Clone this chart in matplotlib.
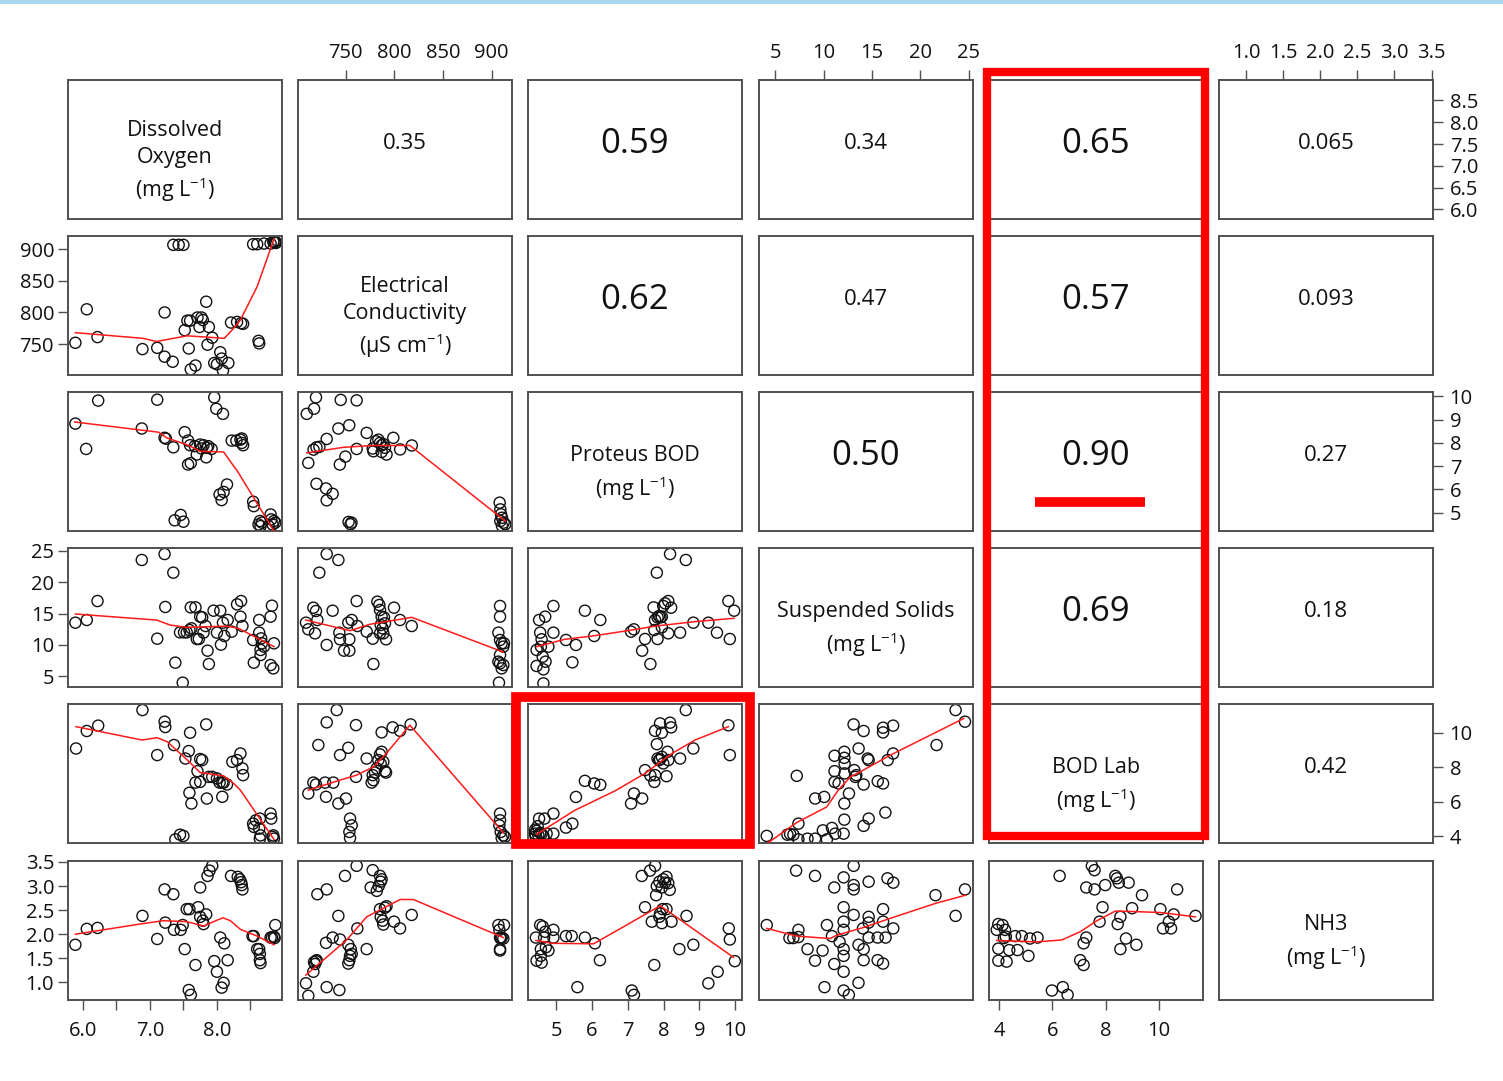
import matplotlib
matplotlib.use("Agg")
import matplotlib.pyplot as plt
from matplotlib.patches import Rectangle

plt.rcParams["font.family"] = ["Open Sans", "DejaVu Sans"]
plt.rcParams["mathtext.fontset"] = "custom"
plt.rcParams["mathtext.rm"] = "Open Sans"
plt.rcParams["mathtext.default"] = "regular"

# ---------------------------------------------------------------------------
# Variables
# ---------------------------------------------------------------------------

VAR_LABELS = [
    "Dissolved\nOxygen\n(mg L$^{-1}$)",
    "Electrical\nConductivity\n(µS cm$^{-1}$)",
    "Proteus BOD\n(mg L$^{-1}$)",
    "Suspended Solids\n(mg L$^{-1}$)",
    "BOD Lab\n(mg L$^{-1}$)",
    "NH3\n(mg L$^{-1}$)",
]
VAR_LIMITS = [(5.78, 8.97), (701, 921), (4.21, 10.19), (3.3, 25.45), (3.62, 11.65), (0.633, 3.52)]
VAR_TICKS = [
    [6.0, 6.5, 7.0, 7.5, 8.0, 8.5],
    [750, 800, 850, 900],
    [5, 6, 7, 8, 9, 10],
    [5, 10, 15, 20, 25],
    [4, 6, 8, 10],
    [1.0, 1.5, 2.0, 2.5, 3.0, 3.5],
]
VAR_DECIMALS = [1, 0, 0, 0, 0, 1]

# correlation coefficients, upper triangle (row, col)
CORR = {
    (0, 1): "0.35", (0, 2): "0.59", (0, 3): "0.34", (0, 4): "0.65", (0, 5): "0.065",
    (1, 2): "0.62", (1, 3): "0.47", (1, 4): "0.57", (1, 5): "0.093",
    (2, 3): "0.50", (2, 4): "0.90", (2, 5): "0.27",
    (3, 4): "0.69", (3, 5): "0.18",
    (4, 5): "0.42",
}

# ---------------------------------------------------------------------------
# Scatter data, (x = column variable, y = row variable)
# ---------------------------------------------------------------------------

do_ec = [(5.89, 752), (6.06, 805), (6.22, 761), (6.89, 742), (7.11, 744), (7.22, 800), (7.22, 730),
         (7.34, 722), (7.35, 907), (7.43, 907), (7.50, 907), (7.52, 772), (7.58, 743), (7.56, 787),
         (7.60, 787), (7.61, 710), (7.68, 716), (7.71, 792), (7.74, 777), (7.77, 792), (7.79, 788),
         (7.84, 817), (7.86, 749), (7.88, 777), (7.93, 760), (7.96, 720), (8.00, 718), (8.05, 737),
         (8.07, 727), (8.09, 708), (8.17, 720), (8.21, 784), (8.30, 785), (8.36, 783), (8.39, 782),
         (8.54, 908), (8.60, 908), (8.62, 755), (8.63, 751), (8.70, 909), (8.80, 909), (8.84, 912),
         (8.87, 912), (8.90, 914), (8.88, 910), (8.86, 911)]
do_ec_fit = [(5.89, 768), (6.90, 759), (7.10, 754), (7.55, 763), (7.85, 761), (8.11, 759),
             (8.25, 775), (8.35, 788), (8.60, 841), (8.85, 916)]

do_pb = [(5.89, 8.83), (6.05, 7.74), (6.23, 9.82), (6.88, 8.62), (7.11, 9.86), (7.22, 8.22), (7.24, 8.18),
         (7.35, 7.81), (7.37, 4.67), (7.46, 4.90), (7.50, 4.61), (7.52, 8.46), (7.57, 8.10), (7.60, 7.90),
         (7.57, 7.07), (7.61, 7.13), (7.67, 7.86), (7.70, 7.50), (7.75, 7.93), (7.77, 7.76), (7.80, 7.90),
         (7.85, 7.79), (7.87, 7.86), (7.92, 7.74), (7.84, 7.38), (7.96, 9.96), (7.99, 9.47), (8.09, 9.25),
         (8.04, 5.78), (8.10, 5.89), (8.15, 6.21), (8.07, 5.54), (8.22, 8.10), (8.29, 8.10), (8.35, 8.14),
         (8.37, 8.00), (8.39, 7.90), (8.37, 8.19), (8.54, 5.47), (8.55, 5.28), (8.62, 4.49), (8.64, 4.64),
         (8.65, 4.42), (8.67, 4.57), (8.80, 4.92), (8.81, 4.71), (8.83, 4.49), (8.85, 4.64), (8.77, 4.42),
         (8.87, 4.57)]
do_pb_fit = [(5.88, 8.90), (7.13, 8.46), (7.25, 8.22), (7.57, 7.90), (7.75, 7.64), (8.10, 7.61),
             (8.25, 7.00), (8.30, 6.81), (8.85, 4.21)]

do_ss = [(5.89, 13.55), (6.06, 13.98), (6.22, 17.0), (6.88, 23.54), (7.11, 11.0), (7.22, 24.49),
         (7.23, 16.05), (7.35, 21.52), (7.38, 7.18), (7.45, 12.01), (7.51, 12.01), (7.55, 12.01),
         (7.59, 12.38), (7.49, 3.99), (7.61, 15.99), (7.68, 15.99), (7.62, 12.65), (7.70, 10.95),
         (7.73, 10.95), (7.75, 14.51), (7.78, 14.4), (7.80, 11.96), (7.83, 13.02), (7.86, 9.09),
         (7.88, 6.96), (7.95, 15.46), (8.00, 11.96), (8.05, 15.46), (8.06, 10.05), (8.09, 13.55),
         (8.11, 11.43), (8.16, 13.98), (8.22, 12.12), (8.30, 16.47), (8.36, 17.0), (8.35, 14.51),
         (8.38, 13.02), (8.54, 10.79), (8.55, 7.18), (8.63, 11.96), (8.63, 13.98), (8.66, 11.05),
         (8.67, 10.26), (8.65, 9.2), (8.65, 8.4), (8.70, 9.73), (8.80, 14.51), (8.82, 16.26),
         (8.85, 10.26), (8.80, 6.8), (8.84, 6.27)]
do_ss_fit = [(5.89, 14.93), (7.10, 13.97), (7.30, 13.18), (7.55, 12.8), (8.15, 13.0), (8.32, 12.65),
             (8.85, 9.73)]

do_bl = [(5.90, 9.08), (6.06, 10.09), (6.23, 10.40), (6.89, 11.30), (7.11, 8.70), (7.22, 10.63),
         (7.23, 10.32), (7.36, 9.28), (7.38, 3.83), (7.45, 4.10), (7.50, 4.03), (7.53, 8.5), (7.58, 8.93),
         (7.60, 9.99), (7.62, 5.9), (7.59, 6.52), (7.68, 7.11), (7.71, 7.77), (7.75, 8.47), (7.78, 8.41),
         (7.75, 7.15), (7.84, 10.47), (7.85, 6.19), (7.88, 7.44), (7.93, 7.44), (8.00, 7.35), (8.04, 7.11),
         (8.08, 7.11), (8.10, 7.11), (8.15, 7.00), (8.08, 6.29), (8.23, 8.31), (8.30, 8.41), (8.35, 8.79),
         (8.38, 7.93), (8.39, 7.54), (8.54, 4.74), (8.55, 4.55), (8.58, 4.93), (8.63, 4.45), (8.64, 5.03),
         (8.64, 3.87), (8.65, 4.06), (8.80, 5.32), (8.81, 5.03), (8.84, 4.06), (8.85, 3.87), (8.83, 3.97)]
do_bl_fit = [(5.90, 10.34), (6.88, 9.57), (7.11, 9.70), (7.26, 9.47), (7.56, 8.41), (7.75, 7.69),
             (8.10, 7.50), (8.25, 7.06), (8.35, 6.67), (8.85, 3.83)]

do_nh = [(5.89, 1.78), (6.06, 2.11), (6.22, 2.13), (6.89, 2.38), (7.11, 1.90), (7.22, 2.93), (7.23, 2.24),
         (7.35, 2.83), (7.36, 2.09), (7.46, 2.09), (7.49, 2.19), (7.52, 1.69), (7.55, 2.52), (7.59, 2.52),
         (7.58, 0.84), (7.61, 0.74), (7.68, 1.36), (7.72, 2.56), (7.75, 2.97), (7.75, 2.36), (7.79, 2.28),
         (7.80, 2.21), (7.84, 2.41), (7.86, 3.21), (7.89, 3.32), (7.93, 3.42), (7.96, 1.44), (8.00, 1.22),
         (8.05, 1.93), (8.07, 0.89), (8.10, 0.99), (8.11, 1.81), (8.16, 1.46), (8.21, 3.21), (8.31, 3.19),
         (8.34, 3.14), (8.36, 3.08), (8.37, 3.02), (8.38, 2.93), (8.53, 1.96), (8.55, 1.96), (8.60, 1.69),
         (8.63, 1.69), (8.64, 1.59), (8.64, 1.46), (8.65, 1.40), (8.80, 1.93), (8.82, 1.93), (8.85, 1.95),
         (8.86, 1.92), (8.87, 2.19)]
do_nh_fit = [(5.89, 2.00), (6.85, 2.21), (7.20, 2.28), (7.55, 2.26), (7.80, 2.17), (8.00, 2.29),
             (8.09, 2.34), (8.20, 2.28), (8.35, 2.10), (8.60, 1.96), (8.85, 1.78)]

ec_pb = [(710, 9.25), (719.5, 9.96), (717.5, 9.47), (720, 7.81), (717, 7.71), (723, 7.83), (711.6, 7.14),
         (720, 6.24), (729.8, 6.04), (736.6, 5.81), (730.5, 5.53), (730.5, 8.17), (742.5, 8.62),
         (744.9, 9.85), (744, 7.07), (749.7, 7.41), (753.7, 8.76), (761.3, 9.83), (761.3, 7.74),
         (771.6, 8.43), (753, 4.60), (755, 4.50), (756, 4.57), (777.8, 7.76), (781.2, 8.07), (783.6, 8.14),
         (785.3, 8.00), (787, 7.90), (788.7, 7.95), (778.5, 7.64), (790.4, 7.79), (792, 7.50), (787, 7.61),
         (799, 8.22), (806, 7.72), (818, 7.89), (908.3, 5.43), (909, 5.14), (909.7, 4.93), (910.7, 4.78),
         (909, 4.64), (912.4, 4.57), (914.1, 4.50), (910.7, 4.43)]
ec_pb_fit = [(710, 7.57), (747.6, 7.81), (778.5, 7.89), (816, 7.89), (914, 4.64)]

ec_ss = [(709.2, 13.55), (711.6, 12.49), (716.8, 15.94), (719.5, 15.41), (718.5, 11.85), (720.9, 13.98),
         (722.9, 21.52), (730.5, 24.49), (730.5, 10.0), (736.6, 15.46), (742.5, 23.54), (743.5, 11.96),
         (744.2, 10.9), (748.3, 9.09), (753.8, 9.09), (752.7, 13.55), (756.2, 13.98), (753.8, 10.9),
         (761.3, 17.0), (762, 13.02), (771.6, 12.12), (777.8, 11.0), (778.5, 6.96), (782.6, 16.9),
         (784.6, 16.37), (785.3, 15.57), (787, 14.51), (788, 12.65), (788.7, 11.85), (789.4, 14.4),
         (790.4, 13.45), (791.5, 10.9), (785.3, 11.85), (786, 13.18), (799.7, 15.94), (805.9, 13.98),
         (817.9, 13.02), (908.7, 16.21), (908.7, 14.51), (907, 11.96), (908.7, 10.79), (910.4, 10.26),
         (912.1, 9.73), (908.7, 8.4), (907, 7.34), (908.7, 7.07), (910.4, 6.27), (912.1, 6.8),
         (912.8, 10.26), (907.6, 3.99)]
ec_ss_fit = [(709, 13.97), (754.5, 12.27), (775, 13.3), (818, 14.4), (912, 8.87)]

ec_bl = [(711.6, 6.48), (716.8, 7.11), (719.5, 7.00), (721.9, 9.28), (728.8, 7.11), (729.8, 6.29),
         (730.5, 10.59), (737.3, 7.11), (740.8, 11.30), (742.5, 5.9), (744.2, 8.7), (750.3, 6.19),
         (752.7, 9.12), (754.5, 5.03), (756.2, 4.64), (753.8, 4.26), (754.5, 3.91), (760.6, 10.43),
         (760.6, 7.44), (771.6, 8.5), (777.8, 7.54), (780.2, 7.69), (781.9, 7.93), (783.6, 8.41),
         (785.3, 8.74), (787, 8.89), (786, 8.21), (788.7, 8.31), (790.4, 7.77), (791.5, 7.69),
         (778.5, 7.25), (776.7, 7.11), (787, 10.01), (798.3, 10.3), (805.9, 10.1), (816.8, 10.47),
         (908.7, 5.32), (908.7, 4.93), (908, 4.64), (909.4, 4.26), (912.1, 4.06), (910.4, 3.91),
         (913.8, 3.97)]
ec_bl_fit = [(711.6, 6.67), (744, 7.25), (761.3, 7.54), (778.5, 8.02), (790.4, 8.70), (816, 10.43),
             (912, 4.22)]

ec_nh = [(709.2, 0.98), (711.6, 0.72), (716.8, 1.22), (718.5, 1.38), (720.2, 1.46), (717.5, 1.42),
         (719.5, 1.44), (720.9, 2.83), (729.8, 1.82), (730.5, 2.93), (730.5, 0.90), (736.6, 1.93),
         (742.5, 2.38), (743.5, 0.84), (744.2, 1.89), (749.3, 3.21), (752.7, 1.78), (755.2, 1.69),
         (756.2, 1.59), (753.8, 1.46), (752.7, 1.39), (754.5, 1.55), (761.3, 3.42), (762, 2.12),
         (771.6, 1.69), (777.8, 3.33), (775.7, 2.97), (782, 2.90), (784, 3.00), (785.3, 3.21),
         (786, 3.09), (787, 3.14), (785.3, 2.52), (786, 2.36), (788, 2.28), (788.7, 2.20), (790.4, 2.55),
         (792, 2.58), (799.7, 2.26), (805.9, 2.12), (817.9, 2.40), (907, 2.19), (908, 2.09),
         (908.7, 1.93), (909.4, 1.91), (910.4, 1.93), (912.1, 1.91), (912.8, 2.19), (908.7, 1.69),
         (908.7, 1.66)]
ec_nh_fit = [(709, 1.15), (751, 1.88), (771.6, 2.36), (806, 2.72), (819.6, 2.72), (912, 1.93)]

pb_ss = [(4.45, 9.2), (4.45, 6.65), (4.52, 13.98), (4.55, 11.96), (4.59, 10.9), (4.57, 9.73), (4.62, 8.13),
         (4.64, 6.11), (4.64, 3.88), (4.69, 14.51), (4.70, 7.34), (4.78, 9.73), (4.92, 11.96), (4.92, 16.21),
         (5.27, 10.79), (5.45, 7.23), (5.55, 10.0), (5.80, 15.46), (6.06, 11.43), (6.23, 13.98),
         (7.09, 12.12), (7.17, 12.49), (7.40, 9.09), (7.48, 10.95), (7.63, 6.96), (7.72, 15.99),
         (7.81, 21.52), (7.76, 13.98), (7.83, 14.4), (7.87, 14.61), (7.91, 14.4), (7.95, 14.51),
         (7.74, 12.38), (7.83, 10.95), (7.95, 12.81), (7.99, 16.21), (8.04, 16.63), (8.13, 17.0),
         (8.21, 15.94), (8.13, 11.85), (8.18, 24.49), (8.62, 23.54), (8.46, 11.96), (8.83, 13.55),
         (9.25, 13.55), (9.49, 11.96), (9.81, 17.0), (9.85, 10.95), (9.97, 15.46)]
pb_ss_fit = [(4.45, 9.73), (5.24, 10.9), (6.08, 11.48), (7.11, 12.38), (7.76, 13.0), (8.88, 13.72),
             (9.97, 14.25)]

pb_bl = [(4.41, 4.16), (4.45, 4.32), (4.50, 4.07), (4.55, 4.20), (4.59, 4.16), (4.48, 4.59), (4.52, 5.03),
         (4.67, 5.03), (4.41, 4.39), (4.42, 4.01), (4.64, 4.01), (4.73, 4.16), (4.92, 5.32), (4.92, 4.16),
         (5.27, 4.51), (5.45, 4.74), (5.55, 6.28), (5.80, 7.21), (6.06, 7.06), (6.23, 6.98), (7.09, 5.9),
         (7.17, 6.48), (7.40, 6.19), (7.48, 7.83), (7.63, 7.52), (7.74, 7.15), (7.76, 7.54), (7.81, 9.33),
         (7.76, 10.1), (7.83, 8.5), (7.87, 8.41), (7.90, 8.45), (7.95, 8.6), (7.99, 8.22), (8.08, 7.48),
         (8.11, 8.89), (8.13, 8.41), (8.18, 10.57), (8.21, 10.3), (7.95, 9.99), (7.90, 10.53),
         (8.46, 8.5), (8.62, 11.3), (8.83, 9.08), (9.81, 10.42), (9.85, 8.7)]
pb_bl_fit = [(4.45, 4.12), (5.52, 5.51), (6.64, 6.63), (7.48, 7.64), (8.23, 8.79), (8.88, 9.57),
             (9.81, 10.34)]

pb_nh = [(4.43, 1.93), (4.45, 1.45), (4.55, 2.19), (4.57, 1.69), (4.59, 1.41), (4.62, 2.16), (4.66, 1.93),
         (4.69, 2.05), (4.71, 1.73), (4.78, 1.66), (4.57, 1.55), (4.92, 1.93), (4.92, 2.09), (5.27, 1.96),
         (5.43, 1.96), (5.59, 0.90), (5.80, 1.93), (6.08, 1.81), (6.22, 1.46), (7.11, 0.83), (7.17, 0.74),
         (7.39, 3.21), (7.48, 2.56), (7.62, 3.32), (7.67, 2.26), (7.74, 1.36), (7.76, 3.42), (7.79, 2.81),
         (7.81, 3.00), (7.88, 3.09), (7.95, 2.97), (7.99, 3.14), (8.04, 3.07), (8.08, 3.19), (8.13, 3.06),
         (8.17, 2.92), (7.88, 2.36), (7.90, 2.43), (7.95, 2.23), (7.97, 2.52), (8.08, 2.52), (8.22, 2.26),
         (8.44, 1.69), (8.64, 2.38), (8.83, 1.78), (9.25, 0.98), (9.51, 1.22), (9.82, 2.12), (9.85, 1.89),
         (9.99, 1.44)]
pb_nh_fit = [(4.43, 1.87), (4.92, 1.81), (6.04, 1.80), (7.06, 2.23), (7.90, 2.59), (8.08, 2.50),
             (9.95, 1.52)]

ss_bl = [(4.1, 4.03), (6.24, 4.10), (6.52, 4.14), (6.86, 4.10), (7.38, 3.83), (8.32, 3.87), (9.11, 3.87),
         (10.33, 3.83), (7.21, 7.5), (7.38, 4.74), (9.11, 6.19), (10.05, 6.28), (9.91, 4.35), (10.85, 4.49),
         (11.19, 4.16), (12.06, 4.16), (11.12, 8.66), (11.12, 7.77), (11.12, 7.15), (11.54, 7.06),
         (12.13, 8.89), (12.13, 8.54), (12.16, 8.2), (12.16, 7.64), (12.13, 5.9), (12.13, 4.97),
         (12.61, 6.48), (13.09, 10.47), (13.27, 7.44), (13.16, 7.83), (13.37, 7.54), (13.61, 9.08),
         (14.13, 7.0), (14.13, 10.09), (14.13, 4.61), (14.65, 5.03), (14.55, 8.5), (14.65, 8.41),
         (15.59, 7.19), (16.14, 7.06), (16.14, 10.28), (16.14, 10.01), (17.18, 10.4), (16.38, 5.38),
         (16.62, 8.41), (17.18, 8.79), (21.68, 9.28), (23.65, 11.3), (24.62, 10.63)]
ss_bl_fit = [(4.1, 3.58), (7.2, 4.80), (10.3, 5.70), (11.5, 6.67), (12.75, 7.44), (14.1, 7.83),
             (16.9, 8.70), (20.7, 9.76), (24.5, 10.82)]

ss_nh = [(4.1, 2.19), (6.45, 1.92), (6.86, 1.92), (7.38, 1.94), (7.38, 2.09), (7.14, 3.32), (8.32, 1.69),
         (9.1, 3.21), (9.1, 1.45), (9.88, 1.66), (10.08, 0.90), (10.33, 2.19), (10.85, 1.96),
         (11.09, 2.97), (11.09, 1.38), (11.64, 1.84), (12.06, 3.18), (12.06, 2.56), (12.06, 2.26),
         (12.06, 2.09), (12.06, 1.69), (12.06, 1.55), (12.06, 1.22), (12.06, 0.83), (12.6, 0.74),
         (13.1, 3.42), (13.1, 3.02), (13.1, 2.93), (13.1, 2.40), (13.6, 1.78), (13.6, 0.99), (14.06, 2.12),
         (14.13, 1.69), (14.13, 1.46), (14.65, 2.36), (14.65, 2.24), (14.65, 1.93), (14.65, 3.09),
         (15.58, 1.93), (15.58, 1.46), (16.14, 2.52), (16.14, 2.26), (16.14, 1.39), (16.4, 1.93),
         (16.6, 3.16), (17.2, 3.07), (17.2, 2.12), (21.57, 2.81), (23.65, 2.38), (24.62, 2.93)]
ss_nh_fit = [(4.1, 2.12), (7.21, 1.96), (10.67, 1.91), (11.36, 1.98), (14.13, 2.14), (16.9, 2.33),
             (21.57, 2.64), (24.69, 2.81)]

bl_nh = [(3.91, 2.09), (3.97, 2.21), (4.13, 2.19), (4.22, 2.09), (4.25, 1.95), (4.18, 1.92), (3.97, 1.70),
         (3.97, 1.45), (4.28, 1.43), (4.38, 1.67), (4.69, 1.67), (4.60, 1.96), (4.85, 1.96), (5.10, 1.55),
         (5.16, 1.91), (5.44, 1.93), (5.98, 0.83), (6.27, 3.21), (6.39, 0.90), (6.57, 0.74), (7.04, 1.46),
         (7.17, 1.36), (7.17, 1.81), (7.27, 1.93), (7.27, 2.97), (7.48, 3.42), (7.58, 3.33), (7.58, 2.93),
         (7.77, 2.26), (7.88, 2.56), (7.98, 3.02), (8.36, 3.21), (8.42, 3.16), (8.49, 3.07), (8.45, 2.21),
         (8.55, 2.36), (8.55, 1.69), (8.76, 1.91), (8.86, 3.07), (8.99, 2.54), (9.15, 1.78), (9.36, 2.81),
         (10.05, 2.52), (10.15, 2.12), (10.37, 2.26), (10.45, 2.12), (10.55, 2.41), (10.68, 2.93),
         (11.37, 2.38)]
bl_nh_fit = [(3.91, 1.87), (5.41, 1.84), (6.35, 1.88), (7.04, 2.05), (7.67, 2.28), (8.36, 2.48),
             (9.05, 2.47), (10.05, 2.45), (11.37, 2.36)]

LOWER = {
    (1, 0): (do_ec, do_ec_fit),
    (2, 0): (do_pb, do_pb_fit), (2, 1): (ec_pb, ec_pb_fit),
    (3, 0): (do_ss, do_ss_fit), (3, 1): (ec_ss, ec_ss_fit), (3, 2): (pb_ss, pb_ss_fit),
    (4, 0): (do_bl, do_bl_fit), (4, 1): (ec_bl, ec_bl_fit), (4, 2): (pb_bl, pb_bl_fit),
    (4, 3): (ss_bl, ss_bl_fit),
    (5, 0): (do_nh, do_nh_fit), (5, 1): (ec_nh, ec_nh_fit), (5, 2): (pb_nh, pb_nh_fit),
    (5, 3): (ss_nh, ss_nh_fit), (5, 4): (bl_nh, bl_nh_fit),
}

# ---------------------------------------------------------------------------
# Layout (pixels)
# ---------------------------------------------------------------------------

W, H, DPI = 1503, 1081, 100
COL_LEFT = [68, 298, 528, 759, 989, 1219]
ROW_TOP = [80, 236, 392, 548, 704, 861]
PW, PH = 214, 139
BORDER = "#505050"
TICK_FS = 14.5


def px_rect(x0, y0, w, h):
    return [x0 / W, 1 - (y0 + h) / H, w / W, h / H]


def tick_labels(i, hide_alternate=False):
    fmt = f"{{:.{VAR_DECIMALS[i]}f}}"
    labels = [fmt.format(t) for t in VAR_TICKS[i]]
    if hide_alternate:
        labels = [lab if k % 2 == 0 else "" for k, lab in enumerate(labels)]
    return labels


def add_axis(ax, r, c):
    ax.set_xticks([])
    ax.set_yticks([])
    common = dict(length=7, width=1.0, color=BORDER, labelcolor="#111111", labelsize=TICK_FS)
    if r == 0 and c % 2 == 1:
        ax.set_xticks(VAR_TICKS[c], tick_labels(c))
        ax.tick_params(axis="x", top=True, bottom=False, labeltop=True, labelbottom=False,
                       pad=5, **common)
    if r == 5 and c % 2 == 0:
        ax.set_xticks(VAR_TICKS[c], tick_labels(c, hide_alternate=(c == 0)))
        ax.tick_params(axis="x", top=False, bottom=True, labelbottom=True, pad=8, **common)
    if c == 0 and r % 2 == 1:
        ax.set_yticks(VAR_TICKS[r], tick_labels(r))
        ax.tick_params(axis="y", left=True, right=False, labelleft=True, pad=3, **common)
    if c == 5 and r % 2 == 0:
        ax.set_yticks(VAR_TICKS[r], tick_labels(r))
        ax.tick_params(axis="y", left=False, right=True, labelleft=False, labelright=True,
                       pad=5, **common)


fig = plt.figure(figsize=(W / DPI, H / DPI), dpi=DPI)
fig.patch.set_facecolor("white")

# thin blue strip along the top edge
fig.patches.append(Rectangle((0, 1 - 4 / H), 1, 4 / H, transform=fig.transFigure,
                             facecolor="#a8d8f0", edgecolor="none"))

for r in range(6):
    for c in range(6):
        ax = fig.add_axes(px_rect(COL_LEFT[c], ROW_TOP[r], PW, PH))
        ax.set_xlim(VAR_LIMITS[c])
        ax.set_ylim(VAR_LIMITS[r])
        for sp in ax.spines.values():
            sp.set_color(BORDER)
            sp.set_linewidth(1.4)

        if r == c:
            ax.text(0.5, 0.41, VAR_LABELS[r], transform=ax.transAxes, ha="center", va="center",
                    fontsize=15.5, linespacing=1.35, color="#111111")
        elif r < c:
            label = CORR[(r, c)]
            size = 25 if float(label) >= 0.5 else 16
            ax.text(0.5, 0.54, label, transform=ax.transAxes, ha="center", va="center",
                    fontsize=size, color="#111111")
        else:
            pts, fit = LOWER[(r, c)]
            ax.scatter([p[0] for p in pts], [p[1] for p in pts], s=64, facecolors="none",
                       edgecolors="#111111", linewidths=1.0, zorder=2)
            ax.plot([p[0] for p in fit], [p[1] for p in fit], color="#ff1a1a", lw=1.1, zorder=3)
        add_axis(ax, r, c)

# highlight boxes
for x0, y0, x1, y1, lw in [(987, 72, 1205, 836, 6.0), (516, 697, 750, 844, 7.0)]:
    fig.patches.append(Rectangle((x0 / W, 1 - y1 / H), (x1 - x0) / W, (y1 - y0) / H,
                                 transform=fig.transFigure, fill=False, edgecolor="#ff0000",
                                 linewidth=lw, zorder=10))
fig.lines.append(plt.Line2D([1035 / W, 1145 / W], [1 - 502 / H, 1 - 502 / H],
                            transform=fig.transFigure, color="#ff0000", lw=7.0,
                            solid_capstyle="butt", zorder=10))

fig.savefig("out.png", dpi=DPI)
